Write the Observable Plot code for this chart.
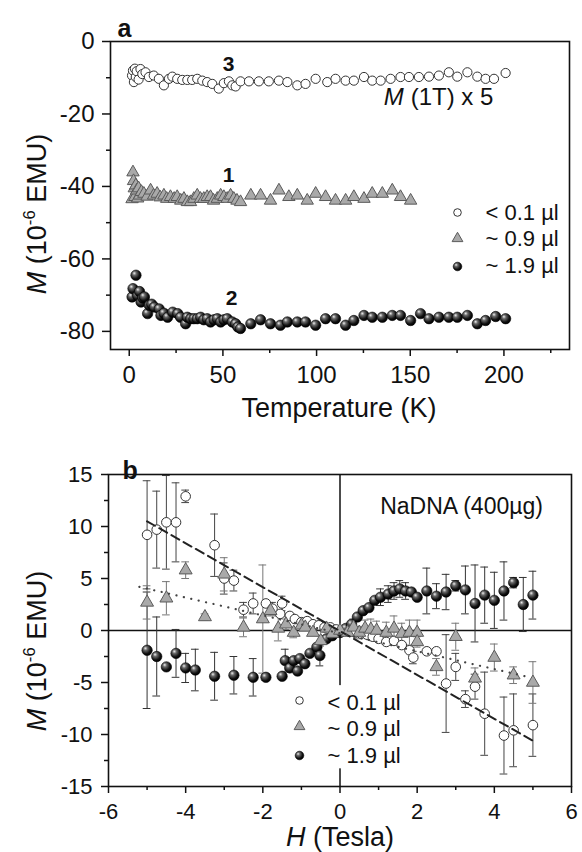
<!DOCTYPE html>
<html><head><meta charset="utf-8">
<script src="https://cdn.jsdelivr.net/npm/d3@7"></script>
<script src="https://cdn.jsdelivr.net/npm/@observablehq/plot@0.6"></script>
<style>
html,body{margin:0;padding:0;background:#fff;}
#wrap{width:582px;height:852px;overflow:hidden;}
#wrap svg{display:block;}
</style></head><body><div id="wrap"></div>
<script>
// ---------- Panel a data: [Temperature (K), M (1e-6 EMU)] ----------
const aOpen = [[1.5,-9.4],[2,-8.0],[2.5,-11.2],[3,-7.5],[3.5,-9.8],[4,-8.2],[5,-10.5],[6,-7.6],[7,-9.0],[8.7,-8.5],[10.5,-9.8],[13.1,-9.4],[15.8,-10.3],[18.5,-12.1],[21.2,-10.3],[23,-9.7],[25.6,-10.3],[28.3,-10.6],[31,-10.6],[33.6,-10.6],[36.3,-10.3],[39,-10.8],[41.6,-11.2],[44.3,-11.7],[47.8,-13.0],[50.5,-11.5],[53.2,-11.0],[55,-12.1],[56.8,-12.4],[59.4,-11.0],[63.9,-11.0],[69.2,-11.0],[74.5,-11.0],[79.9,-10.8],[84.4,-11.2],[89.7,-12.1],[94.1,-11.7],[99.5,-10.3],[105.7,-11.2],[110.1,-10.3],[115.5,-10.8],[119.9,-10.8],[125.3,-9.8],[129.7,-10.8],[134.2,-10.8],[139.5,-10.3],[144.8,-9.8],[149.3,-9.8],[154.6,-9.8],[160,-9.7],[165.3,-9.4],[170.6,-8.5],[175.1,-9.7],[180.5,-8.5],[185.8,-9.7],[190.2,-10.3],[194.7,-10.3],[200.9,-8.7]];
const aTri = [[1.5,-43.5],[2,-36.1],[2.3,-38.5],[2.7,-40.5],[3,-42.9],[3.5,-39.7],[4,-41.1],[4.5,-43.3],[5,-40.5],[5.5,-42.5],[6.5,-41.5],[7.8,-42],[9.5,-42.8],[11.4,-41.1],[13,-42.5],[14.9,-42],[16.5,-43],[18.5,-42.5],[20,-43.4],[22,-42.9],[24,-43.4],[25.6,-42.9],[27.5,-43.9],[29.2,-43.4],[31,-44.3],[32.7,-44.3],[34.5,-43.4],[36.3,-42.5],[38,-43.4],[39.8,-43.4],[41.6,-42.9],[43.4,-42.9],[45,-43.9],[47,-43.4],[48.8,-42.5],[50.5,-42.9],[52.3,-43.4],[54.1,-42.5],[55.8,-43.4],[57.5,-43.9],[59.4,-44.3],[64.9,-42.5],[70.1,-42.5],[75.4,-43.9],[79.9,-41.1],[85.2,-42.9],[89.7,-42.5],[95,-43.9],[99.5,-42],[104.8,-42.9],[110.1,-43.9],[115.5,-43.9],[119.9,-42.9],[125.3,-43.4],[129.7,-42],[135.1,-42],[140.4,-41.1],[144.8,-42.9],[150.2,-43.9]];
const aSph = [[1.5,-70.5],[2,-68.2],[3.6,-64.5],[4.5,-70.1],[5.5,-69],[6.3,-71.9],[7.2,-70.8],[8.1,-70.5],[9.8,-75.1],[10.7,-72.8],[12,-72.5],[13.4,-73.3],[16,-73.8],[16.9,-75.6],[18.5,-75],[20.5,-76.1],[23.2,-74.7],[25.9,-75.1],[27.4,-76.1],[30.1,-77.9],[31,-76.1],[32.8,-76.5],[34.5,-76.5],[36.3,-76.5],[38.1,-76.1],[39.8,-76.8],[41.6,-76.5],[43.4,-77.4],[45.2,-76.8],[47,-76.5],[48.8,-77.4],[50.5,-76.8],[52.3,-76.5],[55,-77.4],[56.8,-77.9],[58,-78.8],[59.4,-79.2],[64.9,-77.9],[70.1,-76.8],[75.4,-77.9],[80.7,-78.3],[84.4,-77.4],[89.7,-77.4],[94.1,-77.4],[99.5,-78.3],[104.8,-76.5],[110.1,-76.5],[115.5,-78.3],[119.9,-77],[125.3,-75.6],[129.7,-76.1],[135.1,-76.1],[140.4,-75.6],[144.8,-75.6],[150.2,-77],[155.5,-75.1],[160,-76.5],[165.3,-76.1],[170.6,-76.1],[175.1,-76.1],[180.5,-75.6],[185.8,-77.9],[190.2,-77],[195.6,-75.9],[200.9,-76.5]];
const aXMajor = [0, 50, 100, 150, 200];
const aXMinor = [25, 75, 125, 175, 225];
const aYMajor = [0, -20, -40, -60, -80];
const aYMinor = [-10, -30, -50, -70];

// ---------- Panel b data: [H (Tesla), M (1e-6 EMU), error] ----------
const bOpen = [[-5.0,9.2,5.2],[-4.75,9.7,3.7],[-4.5,10.4,4.5],[-4.25,10.4,3.8],[-4.0,12.9,0.6],[-3.25,8.2,3.0],[-3.0,5.0,1.5],[-2.75,4.8,1.0],[-2.5,2.0,0.7],[-2.25,2.6,1.0],[-1.92,2.6,0],[-1.75,2.1,0.6],[-1.5,2.6,0.7],[-1.55,1.6,0],[-1.3,1.4,0],[-1.17,1.1,0],[-1.0,0.8,0],[-0.85,0.9,0],[-0.7,0.6,0],[-0.55,0.5,0],[-0.4,0.3,0],[-0.25,0.3,0],[-0.1,0.1,0],[0.1,0.0,0],[0.25,-0.1,0],[0.4,-0.2,0],[0.55,-0.3,0],[0.7,-0.4,0],[0.85,-0.6,0],[1.0,-0.8,0],[1.2,-1.1,0],[1.4,-1.0,0],[1.6,-1.4,0],[1.8,-1.9,0],[1.9,-2.6,0.6],[2.25,-2.0,0],[2.5,-2.0,0],[2.75,-5.1,4.7],[3.0,-3.5,1.3],[3.25,-6.6,0.8],[3.5,-5.4,1.2],[3.75,-8.0,4.0],[4.25,-10.1,3.7],[4.5,-9.6,3.5],[5.0,-9.1,3.0]];
const bTri = [[-5.0,2.7,1.6],[-4.5,3.1,1.6],[-4.0,5.8,0.8],[-3.5,1.3,0.3],[-3.0,5.4,1.6],[-2.5,0.3,0.9],[-2.0,1.1,5.2],[-1.8,1.9,0.5],[-1.6,0.2,1.2],[-1.4,0.6,0.5],[-1.2,-0.2,0.5],[-1.0,0.5,0],[-0.9,0.3,0],[-0.7,-0.2,0],[-0.5,-1.0,0.5],[-0.35,0.2,0],[-0.2,-0.3,0],[0.0,0.0,0],[0.2,-0.2,0],[0.35,0.3,0.8],[0.5,-0.2,0.6],[0.65,0.2,0.8],[0.8,0.1,1.0],[0.95,0.0,0.9],[1.2,-0.2,1.0],[1.4,0.2,1.2],[1.6,-0.3,1.0],[1.8,-0.2,1.2],[2.0,-0.2,1.2],[2.0,-1.1,0.5],[2.5,-3.5,0.8],[3.0,-0.6,1.3],[3.5,-4.6,1.0],[4.0,-2.6,1.3],[4.5,-4.3,0.8],[5.0,-5.0,2.0]];
const bSph = [[-5.0,-1.9,5.6],[-4.75,-2.5,3.8],[-4.5,-3.5,0],[-4.25,-2.2,2.3],[-4.0,-3.6,1.4],[-3.75,-3.8,2.0],[-3.25,-4.4,2.3],[-2.75,-4.3,1.8],[-2.25,-4.5,1.8],[-1.92,-4.5,0.3],[-1.5,-4.4,0],[-1.42,-2.9,1.1],[-1.3,-3.6,0],[-1.2,-2.9,0],[-1.1,-3.9,0],[-1.04,-2.7,0],[-0.91,-3.2,0],[-0.78,-2.2,0],[-0.6,-1.6,0],[-0.52,-2.4,1.0],[-0.35,-0.8,0],[-0.2,-0.5,0],[0.0,-0.2,0],[0.15,0.2,0],[0.3,0.6,0],[0.45,1.3,0],[0.6,1.9,0],[0.75,2.2,0],[0.9,2.9,0],[1.05,3.2,0.8],[1.25,3.5,0.8],[1.4,3.8,0.8],[1.55,4.0,0.8],[1.7,3.8,0.8],[1.85,3.7,0],[2.0,3.2,0],[2.25,3.8,2.2],[2.5,3.3,1.2],[2.75,3.7,1.7],[3.0,4.3,0.5],[3.25,3.9,2.3],[3.5,2.6,3.7],[3.75,3.4,2.7],[4.0,2.9,2.7],[4.25,3.8,2.8],[4.5,4.6,0.5],[4.75,2.5,2.6],[5.0,3.4,2.3]];
const bFitDashed = [[-5.0,10.5],[5.0,-10.6]];
const bFitDotted = [[-5.2,4.2],[4.8,-4.4]];
const bXMajor = [-6, -4, -2, 0, 2, 4, 6];
const bXMinor = [-5, -3, -1, 1, 3, 5];
const bYMajor = [-15, -10, -5, 0, 5, 10, 15];
const bYMinor = [-12.5, -7.5, -2.5, 2.5, 7.5, 12.5];

const legendLabels = ["< 0.1 \u00b5l", "~ 0.9 \u00b5l", "~ 1.9 \u00b5l"];

const FONT = "'Liberation Sans', Arial, Helvetica, sans-serif";
const INK = "#111";

const openStyle = {fill: "white", stroke: "#333", strokeWidth: 1};
const triStyle = {symbol: "triangle", fill: "#a9a9a9", stroke: "#5a5a5a", strokeWidth: 1};
const sphStyle = id => ({fill: `url(#${id})`, stroke: "#000", strokeWidth: 0.6});

function addGradient(svg, id) {
  const defs = d3.select(svg).insert("defs", ":first-child");
  const g = defs.append("radialGradient").attr("id", id)
    .attr("cx", "0.4").attr("cy", "0.38").attr("r", "0.62").attr("fx", "0.33").attr("fy", "0.3");
  g.append("stop").attr("offset", "0").attr("stop-color", "#f0f0f0");
  g.append("stop").attr("offset", "0.3").attr("stop-color", "#6a6a6a");
  g.append("stop").attr("offset", "0.75").attr("stop-color", "#111");
  g.append("stop").attr("offset", "1").attr("stop-color", "#000");
}

function richText(svg, {x, y, rotate = 0, size, parts}) {
  const t = d3.select(svg).append("text")
    .attr("transform", `translate(${x},${y})` + (rotate ? ` rotate(${rotate})` : ""))
    .attr("text-anchor", "middle").attr("font-size", size).attr("fill", INK)
    .attr("font-family", FONT);
  for (const p of parts) {
    const s = t.append("tspan").text(p.t);
    if (p.italic) s.attr("font-style", "italic");
    if (p.sup) s.attr("font-size", size * 0.62).attr("dy", -size * 0.4);
    if (p.after) s.attr("dy", size * 0.4);
  }
}

function errMarks(data, color) {
  const e = data.filter(d => d[2] > 0);
  return [
    Plot.ruleX(e, {x: d => d[0], y1: d => d[1] - d[2], y2: d => d[1] + d[2], stroke: color, strokeWidth: 1}),
    Plot.ruleY(e, {y: d => d[1] + d[2], x1: d => d[0] - 0.1, x2: d => d[0] + 0.1, stroke: color, strokeWidth: 1}),
    Plot.ruleY(e, {y: d => d[1] - d[2], x1: d => d[0] - 0.1, x2: d => d[0] + 0.1, stroke: color, strokeWidth: 1})
  ];
}

function legendMarks(symX, txtX, rowsSym, rowsTxt, gradId) {
  const styles = [
    {symbol: "circle", r: 3.8, ...openStyle},
    {...triStyle, r: 4},
    {symbol: "circle", r: 4.3, ...sphStyle(gradId)}
  ];
  return legendLabels.flatMap((lab, i) => [
    Plot.dot([lab], {frameAnchor: "top-left", dx: symX, dy: rowsSym[i], ...styles[i]}),
    Plot.text([lab], {frameAnchor: "top-left", dx: txtX, dy: rowsTxt[i], textAnchor: "start", lineAnchor: "middle", fontSize: 22, fill: INK})
  ]);
}

// ---------------- Panel a ----------------
const plotA = Plot.plot({
  width: 582, height: 420,
  marginLeft: 110, marginRight: 13, marginTop: 41, marginBottom: 71,
  style: {fontFamily: FONT, background: "white", color: INK, overflow: "visible"},
  x: {domain: [-10, 235], axis: null, label: null},
  y: {domain: [-85, 0], axis: null, label: null},
  marks: [
    Plot.axisX(aXMajor, {tickSize: 7, tickPadding: 9, fontSize: 24, strokeWidth: 1.5, tickFormat: d => String(d), label: null}),
    Plot.axisX(aXMinor, {tickSize: 4, strokeWidth: 1.5, tickFormat: () => "", label: null}),
    Plot.axisY(aYMajor, {tickSize: 8, tickPadding: 8, fontSize: 24, strokeWidth: 1.5, tickFormat: d => String(d), label: null}),
    Plot.axisY(aYMinor, {tickSize: 4, strokeWidth: 1.5, tickFormat: () => "", label: null}),
    Plot.dot(aOpen, {x: d => d[0], y: d => d[1], r: 4.6, ...openStyle}),
    Plot.dot(aTri, {x: d => d[0], y: d => d[1], r: 4.6, ...triStyle}),
    Plot.dot(aSph, {x: d => d[0], y: d => d[1], r: 5.2, ...sphStyle("sphA")}),
    Plot.frame({stroke: INK, strokeWidth: 1.6}),
    Plot.text(["3", "1", "2"], {x: [53, 53, 54.6], y: [-6.3, -37, -70.9], fontSize: 21, fontWeight: "bold", fill: INK}),
    Plot.text(["M"], {x: [135.8], y: [-15.4], textAnchor: "start", fontSize: 24, fontStyle: "italic", fill: INK}),
    Plot.text(["(1T) x 5"], {x: [135.8], y: [-15.4], dx: 27, textAnchor: "start", fontSize: 24, fill: INK}),
    Plot.text(["a"], {frameAnchor: "top-left", dx: 7, dy: -22, textAnchor: "start", fontSize: 25, fontWeight: "bold", fill: INK}),
    ...legendMarks(347, 375, [171, 197, 225], [171, 197, 224], "sphA")
  ]
});
addGradient(plotA, "sphA");
richText(plotA, {x: 339, y: 417, size: 27, parts: [{t: "Temperature (K)"}]});
richText(plotA, {x: 46, y: 214, rotate: -90, size: 27, parts: [{t: "M", italic: true}, {t: " (10"}, {t: "-6", sup: true}, {t: " EMU)", after: true}]});

// ---------------- Panel b ----------------
const plotB = Plot.plot({
  width: 582, height: 432,
  marginLeft: 108, marginRight: 11, marginTop: 54, marginBottom: 66,
  style: {fontFamily: FONT, background: "white", color: INK, overflow: "visible"},
  x: {domain: [-6, 6], axis: null, label: null},
  y: {domain: [-15, 15], axis: null, label: null},
  marks: [
    Plot.axisX(bXMajor, {tickSize: 7, tickPadding: 10, fontSize: 22, strokeWidth: 1.5, tickFormat: d => String(d), label: null}),
    Plot.axisX(bXMinor, {tickSize: 4, strokeWidth: 1.5, tickFormat: () => "", label: null}),
    Plot.axisY(bYMajor, {tickSize: 7, tickPadding: 9, fontSize: 22, strokeWidth: 1.5, tickFormat: d => String(d), label: null}),
    Plot.axisY(bYMinor, {tickSize: 4, strokeWidth: 1.5, tickFormat: () => "", label: null}),
    Plot.ruleY([0], {stroke: INK, strokeWidth: 1.5}),
    Plot.ruleX([0], {stroke: INK, strokeWidth: 1.5}),
    ...errMarks(bOpen, "#444"),
    ...errMarks(bSph, "#333"),
    ...errMarks(bTri, "#777"),
    Plot.dot(bOpen, {x: d => d[0], y: d => d[1], r: 4.8, ...openStyle}),
    Plot.dot(bSph, {x: d => d[0], y: d => d[1], r: 5.2, ...sphStyle("sphB")}),
    Plot.dot(bTri, {x: d => d[0], y: d => d[1], r: 4.8, ...triStyle}),
    Plot.line(bFitDashed, {x: d => d[0], y: d => d[1], stroke: "#222", strokeWidth: 2, strokeDasharray: "9,5"}),
    Plot.line(bFitDotted, {x: d => d[0], y: d => d[1], stroke: "#444", strokeWidth: 2.2, strokeDasharray: "0.1,7.5", strokeLinecap: "round"}),
    Plot.frame({stroke: INK, strokeWidth: 1.6}),
    // white box behind the legend (hides the H = 0 line there, as in the original)
    Plot.rect([0], {x1: -1.3, x2: 1.6, y1: -5.3, y2: -13.3, fill: "white"}),
    Plot.text(["NaDNA (400\u00b5g)"], {x: [1.04], y: [11.9], textAnchor: "start", fontSize: 23, fill: INK}),
    Plot.text(["b"], {frameAnchor: "top-left", dx: 14, dy: -13, textAnchor: "start", fontSize: 25, fontWeight: "bold", fill: INK}),
    ...legendMarks(191, 219, [226, 252, 281], [228, 254, 281], "sphB")
  ]
});
addGradient(plotB, "sphB");
richText(plotB, {x: 340, y: 426, size: 27, parts: [{t: "H", italic: true}, {t: " (Tesla)"}]});
richText(plotB, {x: 46, y: 231, rotate: -90, size: 27, parts: [{t: "M", italic: true}, {t: " (10"}, {t: "-6", sup: true}, {t: " EMU)", after: true}]});

const wrap = document.getElementById("wrap");
wrap.appendChild(plotA);
wrap.appendChild(plotB);
</script>
</body></html>
